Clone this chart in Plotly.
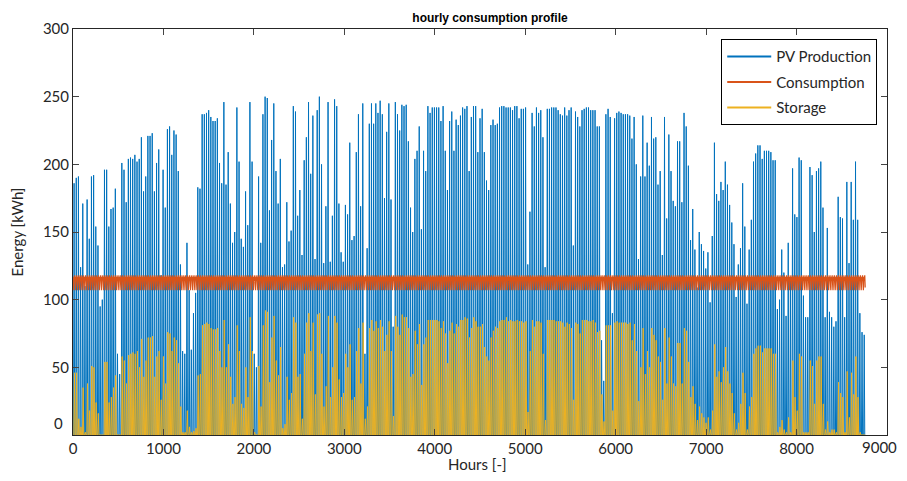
import plotly.graph_objects as go

# Daily peak of PV production [kWh] (one value per day, 365 days)
pv_daily_peak = [
    186, 190, 191, 124, 171, 110, 174, 145, 191, 192,
    154, 140, 95, 100, 196, 196, 154, 167, 168, 182,
    60, 45, 201, 196, 172, 204, 205, 204, 207, 202,
    204, 220, 180, 191, 221, 221, 223, 180, 201, 211,
    118, 196, 168, 226, 228, 207, 225, 222, 195, 126,
    62, 60, 142, 107, 63, 90, 105, 183, 182, 237,
    237, 238, 240, 235, 232, 232, 234, 201, 186, 246,
    185, 209, 171, 142, 150, 242, 202, 145, 139, 180,
    155, 246, 202, 60, 50, 191, 142, 237, 250, 249,
    166, 218, 245, 195, 171, 204, 124, 126, 172, 143,
    151, 243, 239, 162, 181, 133, 203, 220, 246, 193,
    236, 130, 240, 250, 200, 127, 169, 246, 128, 162,
    248, 243, 171, 135, 128, 170, 163, 216, 144, 147,
    209, 237, 169, 245, 60, 138, 230, 245, 230, 245,
    238, 247, 237, 175, 224, 245, 174, 80, 246, 237,
    225, 244, 243, 244, 217, 168, 150, 204, 210, 228,
    152, 210, 195, 243, 238, 242, 242, 242, 242, 232,
    243, 210, 181, 232, 239, 210, 233, 229, 236, 242,
    241, 243, 195, 235, 243, 243, 209, 234, 241, 209,
    188, 181, 229, 233, 229, 230, 242, 243, 243, 242,
    242, 242, 240, 243, 243, 234, 241, 241, 242, 126,
    165, 238, 228, 242, 238, 240, 220, 124, 241, 241,
    242, 242, 242, 240, 237, 236, 242, 236, 240, 242,
    140, 239, 235, 228, 240, 241, 242, 242, 240, 240,
    240, 228, 228, 70, 40, 237, 241, 235, 90, 234,
    238, 239, 238, 237, 237, 237, 236, 219, 235, 200,
    130, 191, 236, 191, 216, 199, 235, 219, 220, 185,
    195, 133, 235, 160, 222, 195, 173, 169, 217, 217,
    172, 238, 228, 199, 144, 167, 137, 109, 150, 141,
    136, 123, 135, 98, 147, 216, 178, 173, 187, 181,
    202, 185, 170, 157, 141, 102, 126, 138, 186, 154,
    97, 137, 159, 202, 208, 214, 214, 204, 210, 210,
    210, 209, 203, 203, 93, 100, 137, 120, 88, 142,
    114, 197, 163, 161, 205, 203, 103, 87, 87, 198,
    192, 150, 195, 197, 202, 168, 87, 153, 91, 87,
    80, 84, 176, 161, 160, 87, 187, 127, 187, 159,
    202, 159, 90, 76, 74,
]

# Daily peak of storage level [kWh]
storage_daily_peak = [
    46, 46, 12, 6, 35, 2, 38, 18, 51, 50,
    24, 16, 0, 0, 54, 54, 24, 28, 35, 44,
    0, 0, 58, 55, 38, 59, 60, 61, 60, 62,
    50, 71, 43, 55, 72, 72, 73, 43, 58, 62,
    26, 58, 38, 76, 75, 62, 72, 70, 53, 21,
    2, 2, 18, 6, 2, 3, 5, 44, 45, 81,
    82, 83, 82, 79, 78, 78, 79, 62, 50, 85,
    50, 67, 43, 23, 28, 81, 62, 23, 20, 50,
    28, 87, 62, 2, 0, 51, 21, 81, 92, 91,
    39, 72, 88, 55, 44, 65, 5, 8, 43, 26,
    31, 87, 83, 43, 45, 12, 60, 83, 90, 62,
    83, 30, 89, 90, 60, 21, 36, 88, 28, 50,
    88, 83, 41, 28, 31, 60, 50, 67, 26, 28,
    62, 79, 38, 83, 12, 21, 79, 85, 77, 84,
    79, 85, 80, 62, 74, 84, 62, 14, 88, 80,
    74, 89, 87, 87, 79, 43, 45, 77, 67, 82,
    37, 67, 72, 85, 85, 85, 85, 85, 84, 79,
    84, 75, 53, 77, 83, 75, 82, 80, 85, 85,
    87, 86, 72, 79, 87, 84, 80, 80, 82, 65,
    58, 55, 72, 77, 80, 79, 84, 85, 85, 87,
    84, 85, 84, 84, 85, 84, 84, 83, 84, 17,
    62, 85, 80, 84, 84, 83, 60, 11, 85, 85,
    85, 85, 84, 84, 84, 83, 80, 83, 82, 79,
    26, 83, 82, 75, 85, 85, 85, 84, 84, 85,
    83, 76, 77, 30, 10, 81, 81, 81, 18, 83,
    84, 83, 83, 83, 83, 82, 83, 70, 82, 62,
    25, 50, 79, 45, 62, 50, 79, 74, 70, 58,
    54, 26, 79, 38, 72, 58, 38, 36, 68, 68,
    38, 79, 77, 54, 28, 36, 23, 11, 21, 16,
    13, 9, 13, 4, 18, 67, 43, 47, 39, 50,
    65, 47, 38, 31, 16, 4, 9, 23, 46, 31,
    4, 21, 28, 60, 64, 66, 66, 61, 64, 64,
    64, 64, 60, 60, 2, 6, 11, 4, 2, 13,
    2, 55, 28, 18, 60, 58, 2, 2, 2, 55,
    51, 23, 55, 58, 58, 23, 4, 10, 2, 4,
    4, 2, 39, 31, 28, 2, 47, 13, 46, 30,
    58, 28, 2, 0, 0,
]

# Hourly consumption profile [kWh] (one typical day, hours 0..23)
consumption_hourly_profile = [
    108, 107, 107, 107, 108, 110, 113, 116, 117, 117, 116, 115,
    114, 114, 115, 116, 117, 118, 118, 117, 115, 113, 111, 109,
]

# Daily curve key points: (hour of day, fraction of daily peak)
pv_day_hours = [6, 12, 18]
pv_day_frac = [0, 1, 0]
storage_day_hours = [9, 16, 23]
storage_day_frac = [0, 1, 0]

series_names = ["PV Production", "Consumption", "Storage"]

x_ticks = [0, 1000, 2000, 3000, 4000, 5000, 6000, 7000, 8000, 9000]
y_ticks = [0, 50, 100, 150, 200, 250, 300]

n_days = len(pv_daily_peak)

pv_x, pv_y = [], []
for d, peak in enumerate(pv_daily_peak):
    for h, f in zip(pv_day_hours, pv_day_frac):
        pv_x.append(d * 24 + h)
        pv_y.append(peak * f)

st_x, st_y = [], []
for d, peak in enumerate(storage_daily_peak):
    for h, f in zip(storage_day_hours, storage_day_frac):
        st_x.append(d * 24 + h)
        st_y.append(peak * f)

cons_x, cons_y = [], []
for d in range(n_days):
    for h, v in enumerate(consumption_hourly_profile):
        cons_x.append(d * 24 + h)
        cons_y.append(v)

BLUE = "#0072BD"
ORANGE = "#D95319"
YELLOW = "#EDB120"
AX = "#262626"
FONT = "Lato, 'Open Sans', sans-serif"
colors = [BLUE, ORANGE, YELLOW]

fig = go.Figure()
fig.add_trace(go.Scatter(x=pv_x, y=pv_y, mode="lines", showlegend=False,
                         line=dict(color=BLUE, width=1)))
fig.add_trace(go.Scatter(x=cons_x, y=cons_y, mode="lines", showlegend=False,
                         line=dict(color=ORANGE, width=1.2)))
fig.add_trace(go.Scatter(x=st_x, y=st_y, mode="lines", showlegend=False,
                         line=dict(color=YELLOW, width=1)))
# legend entries (drawn with a slightly thicker sample line, as in the reference)
for i, (nm, c) in enumerate(zip(series_names, colors)):
    fig.add_trace(go.Scatter(x=[None], y=[None], mode="lines", name=nm,
                             line=dict(color=c, width=2), legendgroup=str(i)))

# page body has an 8px margin: figure is 891x465 placed at (8, 8)
fig.update_layout(
    width=891, height=465,
    margin=dict(l=65, r=12, t=21, b=38, autoexpand=False),
    paper_bgcolor="white", plot_bgcolor="white",
    font=dict(family=FONT, size=14, color=AX),
    title=dict(text="<b>hourly consumption profile</b>", x=0.541, xanchor="center",
               y=0.98, yanchor="middle",
               font=dict(family="Liberation Sans, Arial, sans-serif", size=12, color="#000")),
    showlegend=True,
    legend=dict(x=0.988, xanchor="right", y=0.975, yanchor="top",
                bgcolor="white", bordercolor="#000", borderwidth=1,
                font=dict(family=FONT, size=15, color=AX),
                tracegroupgap=3, itemwidth=44),
    xaxis=dict(range=[0, 9000], tickvals=x_ticks,
               ticktext=["" if v == 9000 else str(v) for v in x_ticks],
               ticks="inside", ticklen=6,
               showline=True, linecolor=AX, linewidth=1, mirror="ticks",
               showgrid=False, zeroline=False, tickfont=dict(size=15), automargin=False),
    yaxis=dict(range=[0, 300], tickvals=y_ticks,
               ticktext=["" if v == 0 else str(v) for v in y_ticks],
               ticks="inside", ticklen=6,
               showline=True, linecolor=AX, linewidth=1, mirror="ticks",
               showgrid=False, zeroline=False, tickfont=dict(size=15), automargin=True,
               title=dict(text="Energy [kWh]", font=dict(size=15), standoff=20)),
)
fig.add_annotation(text="Hours [-]", xref="paper", yref="paper", x=0.497, y=0,
                   xanchor="center", yanchor="middle", yshift=-29, showarrow=False,
                   font=dict(family=FONT, size=15, color=AX))
fig.add_annotation(text="0", xref="paper", yref="y", x=0, y=9, xanchor="right",
                   xshift=-8, showarrow=False, font=dict(family=FONT, size=15, color=AX))
fig.add_annotation(text="9000", xref="paper", yref="paper", x=1, y=0, xanchor="right",
                   yanchor="top", xshift=12, yshift=-1, showarrow=False,
                   font=dict(family=FONT, size=15, color=AX))

fig.write_html("out.html")
